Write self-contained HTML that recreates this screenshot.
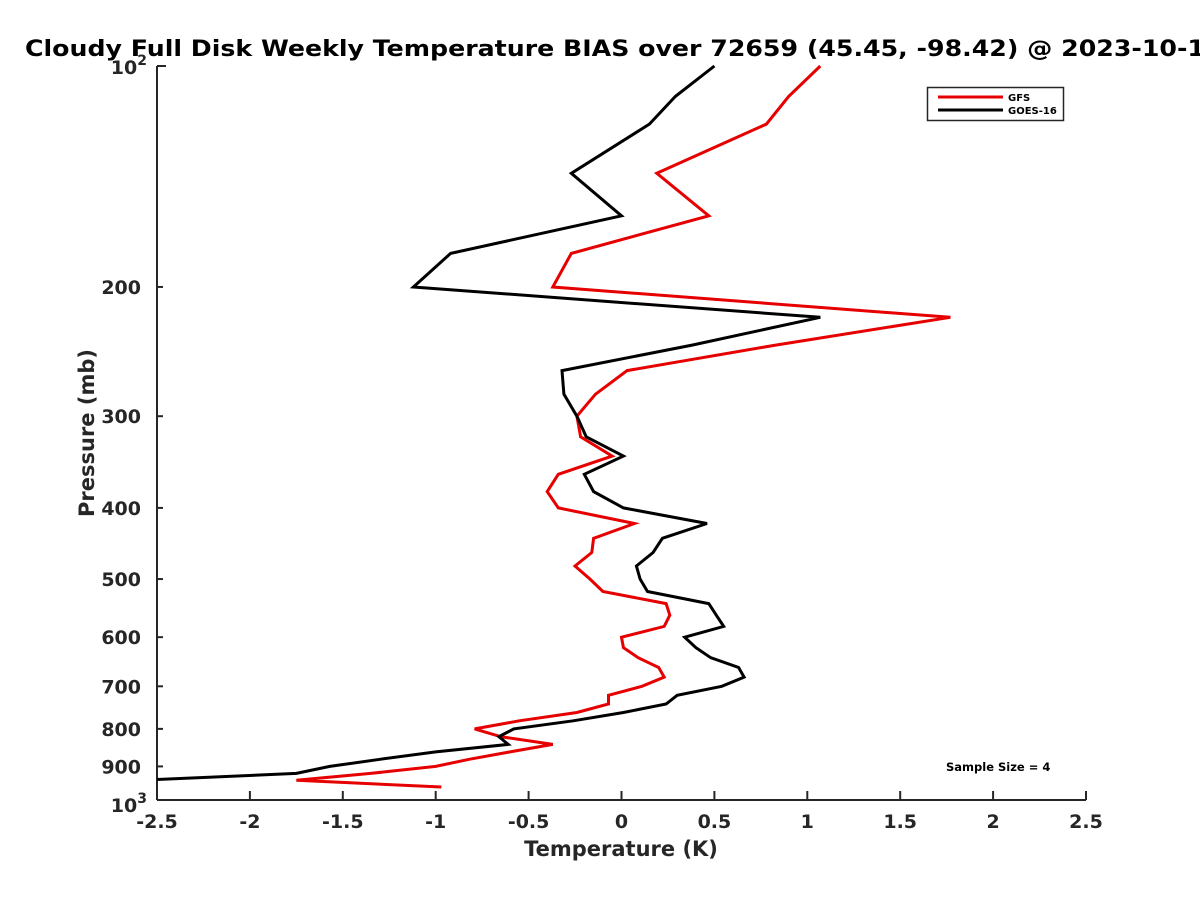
<!DOCTYPE html>
<html><head><meta charset="utf-8"><style>
html,body{margin:0;padding:0;background:#fff;width:1200px;height:900px;overflow:hidden}
svg text{font-family:"DejaVu Sans","Liberation Sans",sans-serif;font-weight:bold}
</style></head><body>
<svg id="chart" width="1200" height="900" viewBox="0 0 1200 900">
<defs><clipPath id="plotclip"><rect x="157" y="60" width="929" height="741"/></clipPath></defs>
<text x="25" y="56" font-size="22" fill="#000" textLength="1180" lengthAdjust="spacingAndGlyphs">Cloudy Full Disk Weekly Temperature BIAS over 72659 (45.45, -98.42) @ 2023-10-1</text>
<g id="axes"></g>
<g id="series" clip-path="url(#plotclip)"></g>
<g>
<rect x="927.5" y="87.5" width="136" height="33" fill="#fff" stroke="#262626" stroke-width="1.5"/>
<line x1="938" y1="97" x2="1003" y2="97" stroke="#e60000" stroke-width="3"/>
<text x="1008" y="101" font-size="10">GFS</text>
<line x1="938" y1="110" x2="1003" y2="110" stroke="#000" stroke-width="3"/>
<text x="1008" y="114" font-size="10">GOES-16</text>
</g>
<text x="946" y="771" font-size="11.5">Sample Size = 4</text>
<text x="621" y="856" font-size="21" text-anchor="middle" fill="#262626">Temperature (K)</text>
<text transform="translate(94,433) rotate(-90)" font-size="21" text-anchor="middle" fill="#262626">Pressure (mb)</text>
</svg>
<script>
const pressures = [100,110,120,140,160,180,200,220,240,260,280,300,320,340,360,380,400,420,440,460,480,500,520,540,560,580,600,620,640,660,680,700,720,740,760,780,800,820,840,860,880,900,920,940,960];
const gfsBias = [1.07,0.90,0.78,0.19,0.47,-0.27,-0.37,1.77,0.83,0.03,-0.14,-0.24,-0.22,-0.05,-0.34,-0.40,-0.34,0.07,-0.15,-0.16,-0.25,-0.17,-0.10,0.24,0.26,0.23,0.00,0.01,0.09,0.20,0.23,0.11,-0.07,-0.07,-0.24,-0.55,-0.79,-0.65,-0.37,-0.60,-0.82,-1.00,-1.35,-1.75,-0.97];
const goesBias = [0.50,0.29,0.15,-0.27,0.00,-0.92,-1.12,1.07,0.38,-0.32,-0.31,-0.24,-0.19,0.01,-0.20,-0.15,0.01,0.46,0.22,0.17,0.08,0.10,0.14,0.47,0.51,0.55,0.34,0.40,0.48,0.63,0.66,0.54,0.30,0.24,0.01,-0.26,-0.58,-0.66,-0.61,-1.00,-1.30,-1.57,-1.75,-2.60,null];
const xTicks = [-2.5,-2,-1.5,-1,-0.5,0,0.5,1,1.5,2,2.5];
const xTickLabels = ["-2.5","-2","-1.5","-1","-0.5","0","0.5","1","1.5","2","2.5"];
const yMinorTicks = [200,300,400,500,600,700,800,900];

const X0=157,X1=1086,Y0=66,Y1=800;
function xScale(t){return X0+(t+2.5)/5*(X1-X0);}
function yScale(p){return Y0+Math.log10(p/100)*(Y1-Y0);}
const NS="http://www.w3.org/2000/svg";
const axes=document.getElementById('axes');
const series=document.getElementById('series');
function mk(tag,attrs,parent){const e=document.createElementNS(NS,tag);for(const k in attrs)e.setAttribute(k,attrs[k]);parent.appendChild(e);return e;}

let e=mk('line',{x1:X0,y1:Y0,x2:X0,y2:Y1,stroke:'#262626','stroke-width':2},axes);


e=mk('line',{x1:X0,y1:Y1,x2:X1,y2:Y1,stroke:'#262626','stroke-width':2},axes);



xTicks.forEach((t,i)=>{
  const x=xScale(t);
  const tk=mk('line',{x1:x,y1:Y1,x2:x,y2:Y1-9,stroke:'#262626','stroke-width':2},axes);
  
  
  const lb=mk('text',{x:x,y:Y1+28,'font-size':19,'text-anchor':'middle',fill:'#262626'},axes);
  lb.textContent=xTickLabels[i];
  
  
});
[100,1000].forEach((p,i)=>{
  const y=yScale(p);
  const tk=mk('line',{x1:X0,y1:y,x2:X0+9,y2:y,stroke:'#262626','stroke-width':2},axes);
  
  
  const lb=mk('text',{x:X0-10,y:y+(i?12:8),'font-size':19,'text-anchor':'end',fill:'#262626'},axes);
  
  
  const b=mk('tspan',{},lb);b.textContent='10';
  const s=mk('tspan',{dy:-9,'font-size':14},lb);s.textContent=i?'3':'2';
});
yMinorTicks.forEach(p=>{
  const y=yScale(p);
  const tk=mk('line',{x1:X0,y1:y,x2:X0+6,y2:y,stroke:'#262626','stroke-width':2},axes);
  
  
  const lb=mk('text',{x:X0-16,y:y+7,'font-size':19,'text-anchor':'end',fill:'#262626'},axes);
  lb.textContent=String(p);
  
  
});

function drawLine(vals,color,name){
  const pts=[];
  vals.forEach((v,i)=>{if(v!==null)pts.push(xScale(v).toFixed(1)+','+yScale(pressures[i]).toFixed(1));});
  const pl=mk('polyline',{points:pts.join(' '),fill:'none',stroke:color,'stroke-width':3,'stroke-linejoin':'miter'},series);
  
  
}
drawLine(gfsBias,'#e60000','gfs-line');
drawLine(goesBias,'#000000','goes16-line');
</script>
</body></html>
